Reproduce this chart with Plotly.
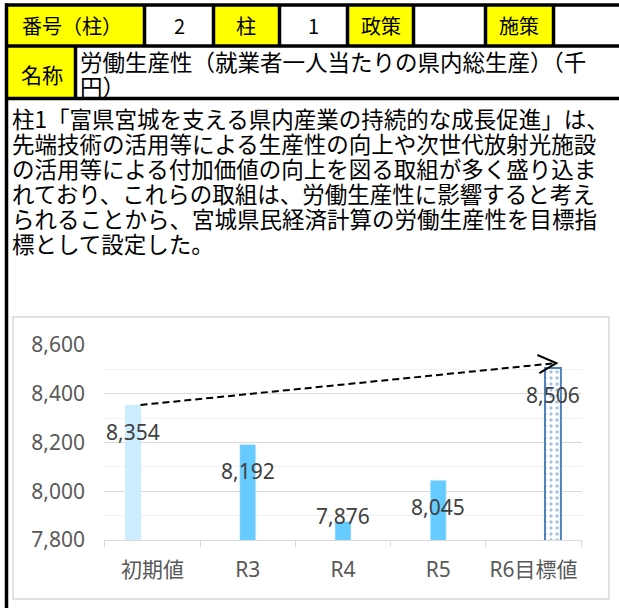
import plotly.graph_objects as go

# ---------------- data ----------------
categories = ["初期値", "R3", "R4", "R5", "R6目標値"]
initial_values = [8354, None, None, None, None]
actual_values = [None, 8192, 7876, 8045, None]
target_values = [None, None, None, None, 8506]
y_ticks = [7800, 8000, 8200, 8400, 8600]

header_row1 = ["番号（柱）", "2", "柱", "1", "政策", "", "施策", ""]
name_label = "名称"
name_lines = ["労働生産性（就業者一人当たりの県内総生産）（千", "円）"]
desc_lines = [
    "柱1「富県宮城を支える県内産業の持続的な成長促進」は、",
    "先端技術の活用等による生産性の向上や次世代放射光施設",
    "の活用等による付加価値の向上を図る取組が多く盛り込ま",
    "れており、これらの取組は、労働生産性に影響すると考え",
    "られることから、宮城県民経済計算の労働生産性を目標指",
    "標として設定した。",
]

# ---------------- styles ----------------
W, H = 619, 608
CJK = "Noto Sans CJK JP"
NUM = "Noto Sans, Noto Sans CJK JP"
def px(x):
    return x / W
def py(y):
    return 1 - y / H

fig = go.Figure()

fig.add_trace(go.Bar(x=categories, y=initial_values, marker=dict(color="#CCECFF"),
                     name="初期値", hoverinfo="skip"))
fig.add_trace(go.Bar(x=categories, y=actual_values, marker=dict(color="#66CCFF"),
                     name="実績値", hoverinfo="skip"))
fig.add_trace(go.Bar(x=categories, y=target_values,
                     marker=dict(color="white",
                                 line=dict(color="#4F81BD", width=2),
                                 pattern=dict(shape=".", fgcolor="#4F81BD", bgcolor="white",
                                              size=6, solidity=0.25)),
                     name="目標値", hoverinfo="skip"))

shapes = []
annotations = []

# chart frame
shapes.append(dict(type="rect", xref="paper", yref="paper", x0=px(13), x1=px(609), y0=py(317), y1=py(599),
                   line=dict(color="#D9D9D9", width=1.5), fillcolor="white", layer="below"))

# table yellow cells
for (x0, y0, x1, y1) in [(8, 6, 144, 46), (213, 6, 279, 46), (347, 6, 413, 46), (485, 6, 553, 46), (8, 46, 75, 98)]:
    shapes.append(dict(type="rect", xref="paper", yref="paper", x0=px(x0), x1=px(x1), y0=py(y0), y1=py(y1),
                       line=dict(width=0), fillcolor="#FFFF00", layer="below"))
# black lines
BL = dict(color="black", width=3.5)
for y in [5, 46, 98.5]:
    shapes.append(dict(type="line", xref="paper", yref="paper", x0=px(5), x1=px(619), y0=py(y), y1=py(y), line=BL))
shapes.append(dict(type="line", xref="paper", yref="paper", x0=px(6.5), x1=px(6.5), y0=py(3.5), y1=py(608), line=BL))
for x in [144.5, 213.5, 279.5, 347.5, 413.5, 485.5, 553.5]:
    shapes.append(dict(type="line", xref="paper", yref="paper", x0=px(x), x1=px(x), y0=py(5), y1=py(46), line=BL))
shapes.append(dict(type="line", xref="paper", yref="paper", x0=px(75.5), x1=px(75.5), y0=py(46), y1=py(98.5), line=BL))

# table texts
row1_x = [20, 179, 246.5, 313.5, 380.5, 449.5, 519, 586]
for i, (t, x) in enumerate(zip(header_row1, row1_x)):
    if not t:
        continue
    annotations.append(dict(text=t, xref="paper", yref="paper", x=px(x), y=py(25.5),
                            xanchor="left" if i == 0 else "center", yanchor="middle", showarrow=False,
                            font=dict(family=CJK, size=20, color="black")))
annotations.append(dict(text=name_label, xref="paper", yref="paper", x=px(42), y=py(74),
                        xanchor="center", yanchor="middle", showarrow=False,
                        font=dict(family=CJK, size=21, color="black")))
for i, t in enumerate(name_lines):
    annotations.append(dict(text=t, xref="paper", yref="paper", x=px(78), y=py(61 + 25 * i),
                            xanchor="left", yanchor="middle", showarrow=False,
                            font=dict(family=CJK, size=22.5, color="black")))
for i, t in enumerate(desc_lines):
    annotations.append(dict(text=t, xref="paper", yref="paper", x=px(10), y=py(118 + 25 * i),
                            xanchor="left", yanchor="middle", showarrow=False,
                            font=dict(family=CJK, size=22.5, color="black")))

# data labels (offset per bar slot within group)
slot = 19.5
label_yshift = {0: -27, 1: -27, 2: 5, 3: -27, 4: -27}
for series, xshift in [(initial_values, -slot), (actual_values, 0), (target_values, slot)]:
    for i, v in enumerate(series):
        if v is None:
            continue
        annotations.append(dict(text=f"{v:,}", x=categories[i], y=v, xref="x", yref="y",
                                xshift=xshift, yshift=label_yshift[i], showarrow=False,
                                xanchor="center", yanchor="middle",
                                font=dict(family=NUM, size=21, color="#404040")))

# dashed trend arrow from initial value to target value
start_val = initial_values[0]
end_val = target_values[4] + 20
shapes.append(dict(type="line", xref="x", yref="y", x0=-0.126, x1=4.24, y0=start_val, y1=end_val,
                   line=dict(color="black", width=2, dash="7px,4px"), layer="above"))
shapes.append(dict(type="path", xref="x", yref="y", xsizemode="pixel", ysizemode="pixel",
                   xanchor=4.24, yanchor=end_val, path="M -19,8 L 0,0 L -17,-10",
                   line=dict(color="black", width=2), layer="above"))

fig.update_layout(
    width=W, height=H,
    margin=dict(l=0, r=0, t=0, b=0, autoexpand=False),
    paper_bgcolor="white",
    plot_bgcolor="rgba(0,0,0,0)",
    showlegend=False,
    barmode="group",
    bargap=0.388,
    bargroupgap=0.18,
    shapes=shapes,
    annotations=annotations,
    xaxis=dict(domain=[px(104), px(582)], type="category", categoryorder="array", categoryarray=categories,
               showline=True, linecolor="#D9D9D9", linewidth=1.3, showgrid=False,
               ticks="outside", tickson="boundaries", ticklen=6, tickcolor="#D9D9D9", tickwidth=1.3,
               tickangle=0, automargin=False,
               tickfont=dict(family=NUM, size=21, color="#595959"), ticklabelstandoff=11,
               fixedrange=True),
    yaxis=dict(domain=[py(540), py(345)], range=[7800, 8600], tickvals=y_ticks, tickformat=",",
               showgrid=True, gridcolor="#D9D9D9", gridwidth=1.3, zeroline=False, showline=False,
               ticks="", automargin=False,
               tickfont=dict(family=NUM, size=21, color="#595959"), ticklabelstandoff=18,
               minor=dict(dtick=100, tick0=7800, showgrid=True, gridcolor="#F0F0F0", gridwidth=1.3),
               fixedrange=True),
)

fig.write_html("out.html", config={"displayModeBar": False},
               post_script="document.body.style.margin='0';document.body.style.overflow='hidden';")
